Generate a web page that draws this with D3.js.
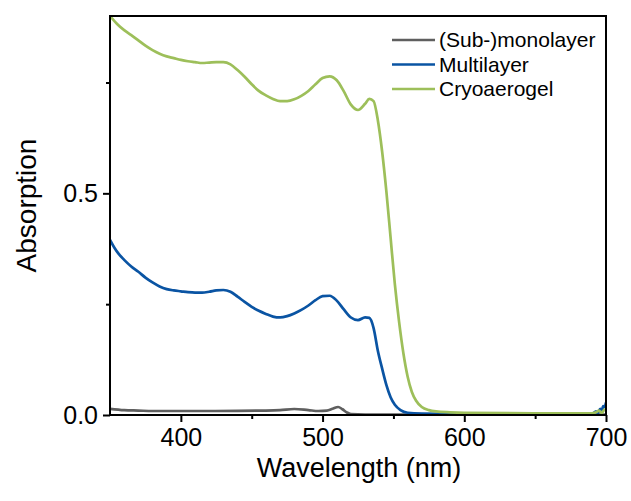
<!DOCTYPE html>
<html>
<head>
<meta charset="utf-8">
<script src="https://cdn.jsdelivr.net/npm/d3@7/dist/d3.min.js"></script>
<style>
  html, body { margin: 0; padding: 0; background: #fff; }
  svg { display: block; font-family: "Liberation Sans", Arial, sans-serif; }
</style>
</head>
<body>
<svg id="chart" width="631" height="501"></svg>
<script>
// Absorption spectra (wavelength in nm, absorption in a.u.)
const seriesNames = ["(Sub-)monolayer", "Multilayer", "Cryoaerogel"];
const seriesColors = ["#5f5f5f", "#0a54a3", "#9dbf5a"];

const subMonolayer = [
  [350, 0.014], [360, 0.011], [370, 0.010], [380, 0.009], [400, 0.009],
  [420, 0.009], [440, 0.0095], [460, 0.010], [470, 0.011], [480, 0.0135],
  [490, 0.011], [497, 0.009], [503, 0.010], [507, 0.014], [511, 0.018],
  [514, 0.013], [517, 0.006], [520, 0.002], [530, 0.001], [600, 0.001],
  [700, 0.001]
];

const multilayer = [
  [350, 0.395], [353, 0.378], [356, 0.364], [360, 0.350], [365, 0.335],
  [370, 0.323], [375, 0.310], [380, 0.299], [385, 0.290], [390, 0.284],
  [395, 0.281], [400, 0.279], [405, 0.277], [410, 0.276], [415, 0.276],
  [420, 0.278], [425, 0.281], [430, 0.282], [435, 0.278], [440, 0.267],
  [445, 0.255], [450, 0.244], [455, 0.235], [460, 0.228], [465, 0.222],
  [470, 0.220], [475, 0.223], [480, 0.229], [485, 0.237], [490, 0.247],
  [495, 0.259], [500, 0.268], [505, 0.269], [510, 0.258], [515, 0.238],
  [520, 0.220], [525, 0.214], [530, 0.220], [533, 0.219], [536, 0.196],
  [539, 0.145], [542, 0.105], [545, 0.068], [548, 0.040], [551, 0.023],
  [555, 0.011], [560, 0.005], [570, 0.003], [600, 0.002], [650, 0.002],
  [690, 0.002], [693, 0.008], [694, 0.003], [696, 0.014], [697, 0.008],
  [698, 0.020], [699, 0.018], [700, 0.028]
];

const cryoaerogel = [
  [350, 0.900], [355, 0.882], [360, 0.868], [365, 0.857], [370, 0.845],
  [375, 0.833], [380, 0.823], [385, 0.815], [390, 0.809], [395, 0.805],
  [400, 0.801], [405, 0.798], [410, 0.796], [415, 0.794], [420, 0.795],
  [425, 0.796], [430, 0.796], [435, 0.791], [440, 0.778], [445, 0.763],
  [450, 0.746], [455, 0.731], [460, 0.721], [465, 0.713], [470, 0.708],
  [475, 0.708], [480, 0.712], [485, 0.720], [490, 0.731], [495, 0.746],
  [500, 0.760], [505, 0.764], [510, 0.755], [515, 0.730], [520, 0.700],
  [525, 0.688], [530, 0.702], [533, 0.713], [536, 0.708], [539, 0.665],
  [542, 0.595], [545, 0.505], [548, 0.400], [551, 0.295], [554, 0.210],
  [557, 0.140], [560, 0.087], [563, 0.052], [566, 0.032], [570, 0.018],
  [575, 0.011], [580, 0.008], [590, 0.006], [600, 0.005], [650, 0.004],
  [690, 0.004], [693, 0.006], [695, 0.010], [697, 0.005], [699, 0.012],
  [700, 0.010]
];

const xMajorTicks = [400, 500, 600, 700];
const xMinorTicks = [450, 550, 650];
const yMajorTicks = [0.0, 0.5];
const yMinorTicks = [0.25, 0.75];

const xLabel = "Wavelength (nm)";
const yLabel = "Absorption";

const svg = d3.select("#chart");
const plot = { left: 110, right: 606, top: 16, bottom: 415 };

const x = d3.scaleLinear().domain([350, 700]).range([plot.left, plot.right]);
const y = d3.scaleLinear().domain([0, 0.9]).range([plot.bottom, plot.top]);

svg.append("defs").append("clipPath").attr("id", "plot-clip")
  .append("rect")
  .attr("x", plot.left).attr("y", plot.top)
  .attr("width", plot.right - plot.left).attr("height", plot.bottom - plot.top);

// Spectra
const line = d3.line()
  .x(d => x(d[0]))
  .y(d => y(d[1]))
  .curve(d3.curveMonotoneX);

const allSeries = [subMonolayer, multilayer, cryoaerogel];
const lines = svg.append("g").attr("clip-path", "url(#plot-clip)");
allSeries.forEach((data, i) => {
  lines.append("path")
    .datum(data)
    .attr("fill", "none")
    .attr("stroke", seriesColors[i])
    .attr("stroke-width", 2.7)
    .attr("stroke-linejoin", "round")
    .attr("d", line);
});

// Axes
const axisFont = 25;
svg.append("g").attr("transform", `translate(0,${plot.bottom})`)
  .call(d3.axisBottom(x).tickValues(xMajorTicks).tickSize(7).tickPadding(6).tickFormat(d3.format("d")));
svg.append("g").attr("transform", `translate(0,${plot.bottom})`)
  .call(d3.axisBottom(x).tickValues(xMinorTicks).tickSize(4).tickFormat(""));

svg.append("g").attr("transform", `translate(${plot.left},0)`)
  .call(d3.axisLeft(y).tickValues(yMajorTicks).tickSize(7).tickPadding(5).tickFormat(d3.format(".1f")));
svg.append("g").attr("transform", `translate(${plot.left},0)`)
  .call(d3.axisLeft(y).tickValues(yMinorTicks).tickSize(4).tickFormat(""));

svg.selectAll(".tick line").attr("stroke", "#000").attr("stroke-width", 2);
svg.selectAll(".domain").remove();
svg.selectAll(".tick text")
  .attr("font-size", axisFont)
  .attr("font-family", "'Liberation Sans', Arial, sans-serif")
  .attr("fill", "#000");

// Frame
svg.append("rect")
  .attr("x", plot.left).attr("y", plot.top)
  .attr("width", plot.right - plot.left).attr("height", plot.bottom - plot.top)
  .attr("fill", "none").attr("stroke", "#000").attr("stroke-width", 2);

// Axis titles
svg.append("text")
  .attr("x", (plot.left + plot.right) / 2 + 1).attr("y", 477)
  .attr("text-anchor", "middle").attr("font-size", 27).attr("fill", "#000")
  .text(xLabel);

svg.append("text")
  .attr("transform", `translate(36,${(plot.top + plot.bottom) / 2 - 10}) rotate(-90)`)
  .attr("text-anchor", "middle").attr("font-size", 28).attr("fill", "#000")
  .text(yLabel);

// Legend
const legend = svg.append("g").attr("transform", "translate(392,40)");
seriesNames.forEach((name, i) => {
  const row = legend.append("g").attr("transform", `translate(0,${i * 24.5})`);
  row.append("line")
    .attr("x1", 0).attr("x2", 43).attr("y1", 0).attr("y2", 0)
    .attr("stroke", seriesColors[i]).attr("stroke-width", 2.7);
  row.append("text")
    .attr("x", 47).attr("y", 0).attr("dy", "0.35em")
    .attr("font-size", 21).attr("fill", "#000")
    .text(name);
});
</script>
</body>
</html>
